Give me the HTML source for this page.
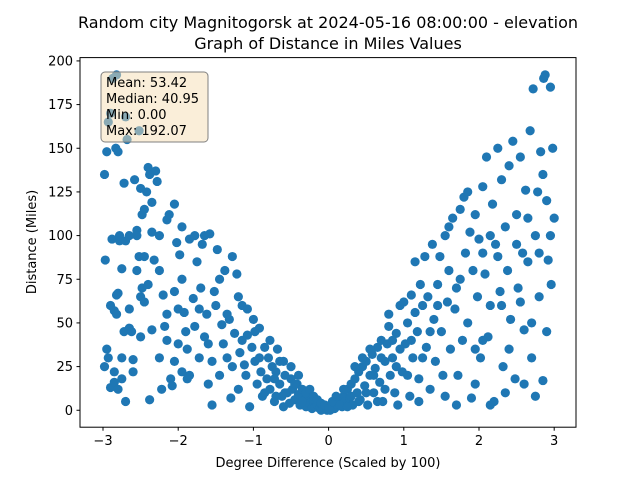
<!DOCTYPE html>
<html><head><meta charset="utf-8"><style>
body{margin:0;background:#fff;}
svg{display:block;font-family:"DejaVu Sans","Liberation Sans",sans-serif;}
</style></head><body>
<svg id="chart" width="640" height="480">
<text x="328" y="28" text-anchor="middle" font-size="16">Random city Magnitogorsk at 2024-05-16 08:00:00  - elevation</text>
<text x="328" y="49" text-anchor="middle" font-size="16">Graph of Distance in Miles Values</text>
<g id="points"></g>
<rect x="80" y="57.6" width="496" height="369.6" fill="none" stroke="#000" stroke-width="1"/>
<g id="xticks"></g>
<g id="yticks"></g>
<text x="328" y="467" text-anchor="middle" font-size="13">Degree Difference (Scaled by 100)</text>
<text transform="translate(36,242) rotate(-90)" text-anchor="middle" font-size="13">Distance (Miles)</text>
<g>
<rect x="101" y="72" width="107" height="70" rx="4" fill="#f5deb3" fill-opacity="0.5" stroke="#808080" stroke-width="1"/>
<text x="106" y="87" font-size="13">Mean: 53.42</text>
<text x="106" y="103" font-size="13">Median: 40.95</text>
<text x="106" y="119" font-size="13">Min: 0.00</text>
<text x="106" y="135" font-size="13">Max: 192.07</text>
</g>
</svg>
<script>
const xVals=[-2.98,-2.97,-2.95,-2.93,-2.9,-2.88,-2.95,-2.93,-2.98,-2.9,-2.85,-2.85,-2.82,-2.87,-2.83,-2.8,-2.82,-2.8,-2.85,-2.82,-2.78,-2.78,-2.75,-2.8,-2.75,-2.72,-2.7,-2.68,-2.72,-2.7,-2.7,-2.65,-2.65,-2.62,-2.6,-2.6,-2.58,-2.55,-2.55,-2.52,-2.52,-2.5,-2.48,-2.5,-2.48,-2.5,-2.45,-2.45,-2.42,-2.4,-2.38,-2.4,-2.38,-2.35,-2.35,-2.32,-2.3,-2.28,-2.25,-2.25,-2.22,-2.2,-2.18,-2.15,-2.15,-2.12,-2.1,-2.08,-2.05,-2.05,-2.02,-2,-2,-1.98,-1.95,-1.95,-1.92,-1.9,-1.88,-1.85,-1.85,-1.8,-1.78,-1.75,-1.72,-1.7,-1.68,-1.65,-1.62,-1.6,-1.6,-1.58,-1.55,-1.52,-1.5,-1.48,-1.45,-1.42,-1.4,-1.38,-1.35,-1.32,-1.3,-1.28,-1.25,-1.22,-1.2,-1.2,-1.18,-1.15,-1.12,-1.1,-1.08,-1.05,-1.02,-1,-0.98,-0.95,-0.92,-0.9,-0.88,-0.85,-0.82,-0.8,-0.78,-0.75,-0.72,-0.7,-0.68,-0.65,-0.62,-0.6,-0.58,-0.55,-0.52,-0.5,-0.48,-0.45,-0.42,-0.4,-0.38,-0.35,-0.32,-0.3,-0.28,-0.25,-0.22,-0.2,-0.18,-0.15,-0.12,-0.1,-0.08,-0.05,-0.02,
0.02,0.05,0.08,0.1,0.12,0.15,0.18,0.2,0.22,0.25,0.28,0.3,0.32,0.35,0.38,0.4,0.42,0.45,0.48,0.5,0.52,0.55,0.58,0.6,0.62,0.65,0.68,0.7,0.72,0.75,0.78,0.8,0.82,0.85,0.88,0.9,0.92,0.95,0.98,1,1.02,1.05,1.08,1.1,1.12,1.15,1.18,1.2,1.22,1.25,1.28,1.3,1.32,1.35,1.38,1.4,1.42,1.45,1.48,1.5,1.52,1.55,1.58,1.6,1.62,1.65,1.68,1.7,1.72,1.75,1.78,1.8,1.82,1.85,1.88,1.9,1.92,1.95,1.98,2,2.02,2.05,2.08,2.1,2.12,2.15,2.18,2.2,2.22,2.25,2.28,2.3,2.32,2.35,2.38,2.4,2.42,2.45,2.48,2.5,2.52,2.55,2.58,2.6,2.62,2.65,2.68,2.7,2.72,2.75,2.78,2.8,2.82,2.85,2.86,2.88,2.9,2.92,2.95,2.96,2.98,3,2.9,2.75,2.6,2.35,2.15,1.95,1.7,1.2,2.05,2.25,2.55,
-2.9,-2.75,-2.65,-2.55,-2.45,-2.35,-2.25,-2.15,-2.05,-1.95,-1.88,-1.78,-1.72,-1.65,-1.55,-1.45,-1.35,-1.28,-1.15,-1.08,-0.98,-0.92,-0.85,-0.78,-0.72,-0.65,-0.58,-0.5,-0.45,-0.4,-0.35,-0.3,-0.25,-0.2,-0.15,-0.1,-0.05,0,-0.6,-0.7,
0.05,0.1,0.15,0.2,0.25,0.3,0.35,0.4,0.45,0.5,0.55,0.6,0.65,0.7,0.75,0.8,0.85,0.9,0.95,1.05,1.1,1.15,1.25,1.35,1.45,1.55,1.6,1.75,1.85,1.95,2.05,2.15,2.3,2.4,2.5,2.65,2.7,2.8,2.85,2.95];
const yVals=[135,86,148,165,170,98,35,30,25,13,22,16,192,190,150,148,66,67,57,55,97,100,81,12,18,130,168,155,45,5,97,58,47,45,22,29,132,103,100,160,88,127,112,65,70,42,115,88,125,139,135,72,6,119,46,86,137,131,100,30,12,66,48,109,40,112,18,14,68,118,96,58,38,89,75,22,56,45,35,98,20,64,48,85,30,70,95,100,55,38,15,101,3,68,60,92,20,49,38,80,30,52,7,88,44,78,65,12,33,60,26,20,43,2,36,52,28,15,47,22,8,36,18,30,12,25,5,22,35,15,8,28,20,10,4,18,12,6,15,9,3,12,6,2,8,4,1,5,2,3,1,0,2,1,0,
0,2,1,4,3,6,2,8,5,12,7,15,3,18,10,22,6,25,14,28,3,20,32,10,24,36,16,40,5,28,38,48,20,30,10,44,3,60,22,62,38,50,8,66,30,56,45,18,72,60,88,36,65,12,95,52,28,72,88,45,20,100,62,80,35,110,58,70,20,115,40,122,90,50,102,7,80,112,65,98,30,128,78,145,42,60,118,5,95,150,68,132,25,105,80,140,52,154,18,112,70,145,90,46,126,85,160,30,184,100,125,65,148,17,190,192,120,86,185,72,150,110,45,8,15,10,3,35,3,5,40,88,62,
60,30,100,80,62,102,80,55,28,105,18,100,58,42,28,75,55,25,40,58,45,30,10,40,18,28,10,25,15,20,5,10,12,8,6,4,3,1,2,8,
5,8,3,12,2,8,25,5,30,10,35,20,5,30,12,55,40,25,35,20,40,85,30,45,60,8,105,75,125,15,90,100,60,35,95,110,50,90,135,100];
const xTicks=[-3,-2,-1,0,1,2,3];
const yTicks=[0,25,50,75,100,125,150,175,200];
const L=80,R=576,T=57.6,B=427.2,XMIN=-3.306,XMAX=3.29,YMIN=-9.7,YMAX=201.9;
const sx=v=>L+(v-XMIN)/(XMAX-XMIN)*(R-L);
const sy=v=>B-(v-YMIN)/(YMAX-YMIN)*(B-T);
const NS='http://www.w3.org/2000/svg';
const pg=document.getElementById('points');
for(let i=0;i<xVals.length;i++){
 const c=document.createElementNS(NS,'circle');
 c.setAttribute('cx',sx(xVals[i]));c.setAttribute('cy',sy(yVals[i]));
 c.setAttribute('r',4.6);c.setAttribute('fill','#1f77b4');
 
 
 pg.appendChild(c);
}
const xg=document.getElementById('xticks');
xTicks.forEach(t=>{
 const x=sx(t);
 const l=document.createElementNS(NS,'line');
 l.setAttribute('x1',x);l.setAttribute('x2',x);l.setAttribute('y1',B);l.setAttribute('y2',B+3.5);l.setAttribute('stroke','#000');
 
 
 xg.appendChild(l);
 const tx=document.createElementNS(NS,'text');
 tx.setAttribute('x',x);tx.setAttribute('y',B+18);tx.setAttribute('text-anchor','middle');tx.setAttribute('font-size','13');
 tx.textContent=t<0?'\u2212'+Math.abs(t):String(t);
 
 
 xg.appendChild(tx);
});
const yg=document.getElementById('yticks');
yTicks.forEach(t=>{
 const y=sy(t);
 const l=document.createElementNS(NS,'line');
 l.setAttribute('x1',L-3.5);l.setAttribute('x2',L);l.setAttribute('y1',y);l.setAttribute('y2',y);l.setAttribute('stroke','#000');
 
 
 yg.appendChild(l);
 const tx=document.createElementNS(NS,'text');
 tx.setAttribute('x',L-7);tx.setAttribute('y',y+4.5);tx.setAttribute('text-anchor','end');tx.setAttribute('font-size','13');
 tx.textContent=String(t);
 
 
 yg.appendChild(tx);
});
</script>
</body></html>
